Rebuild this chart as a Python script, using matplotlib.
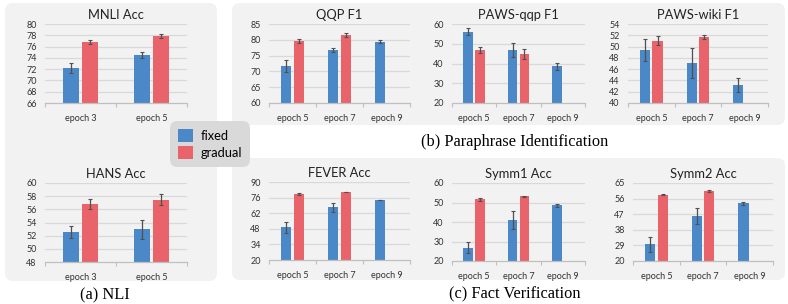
import matplotlib
matplotlib.use("Agg")
import matplotlib.pyplot as plt
import numpy as np
from matplotlib.patches import FancyBboxPatch, Patch

plt.rcParams['font.family'] = ['Lato', 'DejaVu Sans']

# ---------------- data ----------------
nli_cats = ["epoch 3", "epoch 5"]
pi_cats = ["epoch 5", "epoch 7", "epoch 9"]

mnli_fixed = [72.2, 74.55]
mnli_fixed_err = [0.95, 0.55]
mnli_grad = [76.8, 77.9]
mnli_grad_err = [0.4, 0.3]

hans_fixed = [52.5, 53.0]
hans_fixed_err = [0.9, 1.45]
hans_grad = [56.8, 57.45]
hans_grad_err = [0.8, 0.85]

qqp_fixed = [71.7, 76.8, 79.4]
qqp_fixed_err = [1.8, 0.7, 0.4]
qqp_grad = [79.6, 81.5, np.nan]
qqp_grad_err = [0.6, 0.6, 0.0]

pawsqqp_fixed = [56.0, 46.8, 38.7]
pawsqqp_fixed_err = [1.8, 3.5, 1.8]
pawsqqp_grad = [46.8, 44.8, np.nan]
pawsqqp_grad_err = [1.7, 2.6, 0.0]

pawswiki_fixed = [49.4, 47.1, 43.2]
pawswiki_fixed_err = [1.9, 2.7, 1.3]
pawswiki_grad = [51.0, 51.7, np.nan]
pawswiki_grad_err = [0.8, 0.3, 0.0]

fever_fixed = [49.3, 67.3, 73.8]
fever_fixed_err = [5.0, 4.0, 0.4]
fever_grad = [79.2, 81.0, np.nan]
fever_grad_err = [0.7, 0.3, 0.0]

symm1_fixed = [26.9, 40.9, 48.6]
symm1_fixed_err = [3.0, 4.5, 0.8]
symm1_grad = [51.6, 53.2, np.nan]
symm1_grad_err = [0.7, 0.3, 0.0]

symm2_fixed = [29.6, 46.0, 53.3]
symm2_fixed_err = [4.5, 4.8, 0.8]
symm2_grad = [58.1, 60.4, np.nan]
symm2_grad_err = [0.3, 0.6, 0.0]

BLUE = "#4A88C8"
RED = "#E8646A"
PANEL = "#F2F2F2"
GRID = "#D9D9D9"

W, H = 788, 304
fig = plt.figure(figsize=(W / 100, H / 100), dpi=100)
fig.patch.set_facecolor("white")

# background axes in pixel coordinates
bg = fig.add_axes([0, 0, 1, 1], zorder=-10)
bg.set_xlim(0, W)
bg.set_ylim(H, 0)
bg.axis("off")


def panel(x0, y0, x1, y1):
    p = FancyBboxPatch((x0, y0), x1 - x0, y1 - y0,
                       boxstyle="round,pad=0,rounding_size=8",
                       facecolor=PANEL, edgecolor="none")
    bg.add_patch(p)


panel(5, 3, 217, 281)
panel(232, 3, 785, 125)
panel(232, 158, 785, 280)

bg.text(105, 295, "(a) NLI", family="Liberation Serif", fontsize=11.8,
        ha="center", va="center")
bg.text(515, 142, "(b) Paraphrase Identification", family="Liberation Serif",
        fontsize=11.8, ha="center", va="center")
bg.text(515, 294, "(c) Fact Verification", family="Liberation Serif",
        fontsize=11.8, ha="center", va="center")


def make_ax(x0, y0, x1, y1):
    ax = fig.add_axes([x0 / W, (H - y1) / H, (x1 - x0) / W, (y1 - y0) / H])
    ax.set_facecolor("none")
    return ax


def draw(ax, title, cats, fixed, ferr, grad, gerr, yticks):
    n = len(cats)
    x = np.arange(n)
    w = 0.22
    off = 0.135
    fx = np.array(fixed, dtype=float)
    gx = np.array(grad, dtype=float)
    b1 = ax.bar(x - off, fx, w, color=BLUE, zorder=2, label="fixed")
    ax.errorbar(x - off, fx, yerr=ferr, fmt="none", ecolor="#505050",
                elinewidth=0.9, capsize=1.5, capthick=0.8, zorder=3)
    mask = ~np.isnan(gx)
    b2 = ax.bar(x[mask] + off, gx[mask], w, color=RED, zorder=2, label="gradual")
    ax.errorbar(x[mask] + off, gx[mask], yerr=np.array(gerr)[mask], fmt="none",
                ecolor="#505050", elinewidth=0.9, capsize=1.5, capthick=0.8,
                zorder=3)
    ax.set_ylim(yticks[0], yticks[-1])
    ax.set_yticks(yticks)
    ax.set_yticklabels([str(t) for t in yticks], fontsize=6.5, color="#333333")
    ax.set_xlim(-0.5, n - 0.5)
    ax.set_xticks(x)
    ax.set_xticklabels(cats, fontsize=6.5, color="#333333")
    ax.set_xticks(np.arange(n + 1) - 0.5, minor=True)
    ax.tick_params(axis="x", which="major", length=0, pad=8)
    ax.tick_params(axis="x", which="minor", length=3, color="#BFBFBF", width=0.8)
    ax.tick_params(axis="y", length=0, pad=6)
    for t in yticks[1:]:
        ax.axhline(t, color=GRID, lw=0.9, zorder=1)
    for s in ["top", "right", "left"]:
        ax.spines[s].set_visible(False)
    ax.spines["bottom"].set_color("#BFBFBF")
    ax.spines["bottom"].set_linewidth(0.9)
    ax.set_title(title, fontsize=9.3, pad=3.5, color="#222222")
    return b1, b2


ax = make_ax(45, 24, 187, 103)
b1, b2 = draw(ax, "MNLI Acc", nli_cats, mnli_fixed, mnli_fixed_err,
              mnli_grad, mnli_grad_err, [66, 68, 70, 72, 74, 76, 78, 80])
ax = make_ax(45, 183, 187, 262)
draw(ax, "HANS Acc", nli_cats, hans_fixed, hans_fixed_err,
     hans_grad, hans_grad_err, [48, 50, 52, 54, 56, 58, 60])

ax = make_ax(269, 24, 410, 103)
draw(ax, "QQP F1", pi_cats, qqp_fixed, qqp_fixed_err, qqp_grad, qqp_grad_err,
     [60, 65, 70, 75, 80, 85])
ax = make_ax(452, 24, 585, 103)
draw(ax, "PAWS-qqp F1", pi_cats, pawsqqp_fixed, pawsqqp_fixed_err,
     pawsqqp_grad, pawsqqp_grad_err, [20, 30, 40, 50, 60])
ax = make_ax(628, 24, 768, 103)
draw(ax, "PAWS-wiki F1", pi_cats, pawswiki_fixed, pawswiki_fixed_err,
     pawswiki_grad, pawswiki_grad_err, [40, 42, 44, 46, 48, 50, 52, 54])

ax = make_ax(269, 182, 410, 260)
draw(ax, "FEVER Acc", pi_cats, fever_fixed, fever_fixed_err,
     fever_grad, fever_grad_err, [20, 34, 48, 62, 76, 90])
ax = make_ax(452, 183, 585, 261)
draw(ax, "Symm1 Acc", pi_cats, symm1_fixed, symm1_fixed_err,
     symm1_grad, symm1_grad_err, [20, 30, 40, 50, 60])
ax = make_ax(633, 183, 773, 261)
draw(ax, "Symm2 Acc", pi_cats, symm2_fixed, symm2_fixed_err,
     symm2_grad, symm2_grad_err, [20, 29, 38, 47, 56, 65])

handles = [Patch(facecolor=BLUE, label="fixed"), Patch(facecolor=RED, label="gradual")]
leg = fig.legend(handles=handles, loc="center", bbox_to_anchor=(210 / W, 1 - 144 / H),
                 fontsize=9.3, frameon=True, fancybox=True, framealpha=1,
                 facecolor="#D9D9D9", edgecolor="none",
                 handlelength=1.15, handleheight=1.15, handletextpad=0.6,
                 labelspacing=0.3, borderpad=0.35)
leg.get_frame().set_boxstyle("round", pad=0.3, rounding_size=0.6)

fig.savefig("out.png", dpi=100)
